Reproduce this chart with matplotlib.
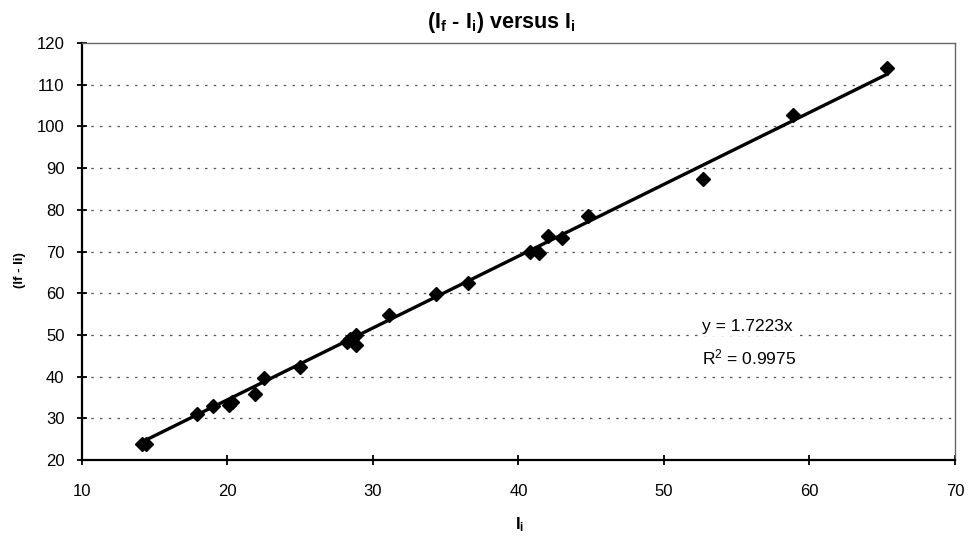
import matplotlib
matplotlib.use("Agg")
import matplotlib.pyplot as plt
import numpy as np

# Data
ii = [14.1, 14.4, 17.9, 19.0, 20.1, 20.3, 21.9, 22.5, 25.0, 28.2, 28.4, 28.8,
      28.8, 31.1, 34.3, 36.5, 40.8, 41.4, 42.0, 43.0, 44.8, 52.7, 58.9, 65.3]
diff = [23.8, 23.8, 31.0, 33.0, 33.2, 34.0, 35.8, 39.6, 42.2, 48.4, 49.0, 47.6,
        50.0, 54.7, 59.7, 62.4, 70.0, 69.6, 73.7, 73.3, 78.6, 87.5, 102.8, 114.1]
slope = 1.7223
r2 = 0.9975
x_ticks = [10, 20, 30, 40, 50, 60, 70]
y_ticks = [20, 30, 40, 50, 60, 70, 80, 90, 100, 110, 120]

plt.rcParams['font.family'] = ['Liberation Sans', 'DejaVu Sans']
plt.rcParams['mathtext.fontset'] = 'custom'
plt.rcParams['mathtext.rm'] = 'Liberation Sans'
plt.rcParams['mathtext.it'] = 'Liberation Sans'
plt.rcParams['mathtext.bf'] = 'Liberation Sans:bold'

fig = plt.figure(figsize=(9.7, 5.38), dpi=100)
ax = fig.add_axes([0.0845, 0.145, 0.9, 0.775])

ax.set_xlim(10, 70)
ax.set_ylim(20, 120)
ax.set_xticks(x_ticks)
ax.set_yticks(y_ticks)

for yv in y_ticks[1:-1]:
    ax.axhline(yv, color='#555555', lw=0.9, ls=(0, (2, 5)), zorder=1)

xs = np.array([min(ii), max(ii)])
ax.plot(xs, slope * xs, color='black', lw=2.4, zorder=2)
ax.plot(ii, diff, ls='none', marker='D', ms=7, color='black', zorder=3)

for s in ['top', 'right']:
    ax.spines[s].set_color('#666666')
    ax.spines[s].set_linestyle((0, (1, 1)))
    ax.spines[s].set_linewidth(1.0)
for s in ['left', 'bottom']:
    ax.spines[s].set_color('black')
    ax.spines[s].set_linewidth(1.6)

ax.tick_params(axis='both', direction='inout', length=7, width=1.3,
               colors='black', labelsize=12)
ax.tick_params(axis='x', pad=14)
ax.tick_params(axis='y', pad=9)

box = dict(facecolor='white', edgecolor='none', pad=1.5)
ax.text(0.71, 0.32, f"y = {slope}x", transform=ax.transAxes,
        fontsize=12.5, ha='left', va='center', bbox=box, zorder=4)
ax.text(0.71, 0.245, f"R$^2$ = {r2}", transform=ax.transAxes,
        fontsize=12.5, ha='left', va='center', bbox=box, zorder=4)

fig.text(0.517, 0.958, r"$\mathbf{(I_f}$ - $\mathbf{I_i)}$ versus $\mathbf{I_i}$",
         ha='center', va='center', fontsize=15.5, fontweight='bold')
fig.text(0.536, 0.025, r"$\mathbf{I_i}$", ha='center', va='center', fontsize=12)
fig.text(0.021, 0.498, "(If - Ii)", rotation=90, ha='center', va='center',
         fontsize=9.5, fontweight='bold')

fig.savefig("out.png", dpi=100)
